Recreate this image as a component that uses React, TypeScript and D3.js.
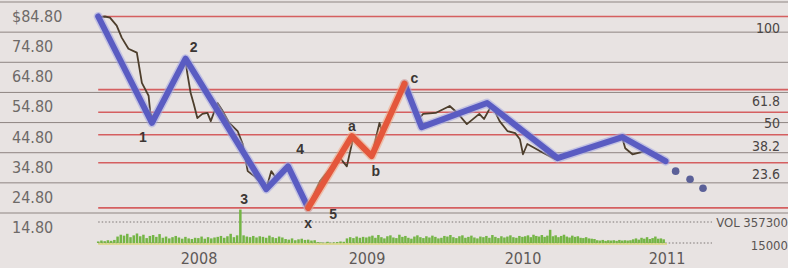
import React, { useEffect, useRef } from 'react';
import * as d3 from 'd3';

// price axis labels, year labels, fibonacci retracement levels
const yTicks = [84.8, 74.8, 64.8, 54.8, 44.8, 34.8, 24.8, 14.8];
const years = [2008, 2009, 2010, 2011];
const fibLevels = [100, 61.8, 50, 38.2, 23.6, 0];
const fibHigh = 84.8;
const fibLow = 21.3;

// closing price (decimal year / $)
const priceDates = [
  2007.40, 2007.44, 2007.47, 2007.51, 2007.54, 2007.58, 2007.63, 2007.64, 2007.66, 2007.70,
  2007.71, 2007.73, 2007.80, 2007.86, 2007.92, 2007.93, 2007.95, 2007.97, 2007.99, 2008.02,
  2008.05, 2008.07, 2008.11, 2008.14, 2008.18, 2008.23, 2008.26, 2008.29, 2008.33, 2008.40,
  2008.43, 2008.46, 2008.53, 2008.59, 2008.65, 2008.72, 2008.79, 2008.84, 2008.88, 2008.92,
  2008.97, 2009.03, 2009.08, 2009.10, 2009.16, 2009.24, 2009.29, 2009.33, 2009.36, 2009.44,
  2009.53, 2009.58, 2009.64, 2009.72, 2009.75, 2009.80, 2009.85, 2009.90, 2009.95, 2009.98,
  2010.00, 2010.03, 2010.12, 2010.22, 2010.33, 2010.47, 2010.60, 2010.69, 2010.71, 2010.76,
  2010.85, 2010.95,
];
const priceValues = [
  84.5, 84.8, 84.4, 81.8, 77.8, 74.1, 72.8, 69.5, 62.8, 58.5,
  52.8, 50.8, 56.8, 63.5, 70.1, 66.1, 59.5, 55.5, 51.1, 52.5,
  52.8, 50.1, 56.1, 53.5, 49.5, 46.8, 42.5, 33.5, 31.8, 27.5,
  33.5, 31.1, 35.1, 28.5, 21.8, 30.1, 35.1, 37.8, 35.1, 45.1,
  40.8, 38.5, 49.5, 46.1, 54.1, 62.8, 56.8, 50.8, 52.5, 52.8,
  55.1, 52.8, 49.1, 52.5, 50.8, 55.5, 50.1, 46.8, 46.1, 44.1,
  39.1, 42.5, 40.1, 37.5, 39.5, 41.8, 43.5, 44.5, 41.1, 39.1,
  40.1, 37.5,
];

// elliott wave overlay
const impulseDates = [2007.40, 2007.72, 2007.92, 2008.40, 2008.53, 2008.65];
const impulseValues = [84.8, 49.5, 70.8, 27.5, 35.1, 21.3];
const impulseLabels = ['', '1', '2', '3', '4', 'x'];
const correctionDates = [2008.65, 2008.91, 2009.03, 2009.24];
const correctionValues = [21.3, 45.1, 38.5, 62.5];
const correctionLabels = ['5', 'a', 'b', 'c'];
const declineDates = [2009.24, 2009.35, 2009.77, 2010.24, 2010.69, 2010.99];
const declineValues = [62.5, 48.1, 56.1, 37.8, 44.8, 36.8];
const forecastDates = [2011.06, 2011.16, 2011.25];
const forecastValues = [33.5, 30.8, 27.8];

// weekly volume, thousands of shares, first week starts at volStart
const volStart = 2007.40;
const volMin = 15000;
const volMax = 357300;
const volumes = [
  40, 55, 45, 60, 50, 65,
  120, 150, 135, 165, 110, 140, 170, 125, 150, 95, 130, 145, 115, 160, 100, 120, 90, 110, 130, 105, 85, 115,
  90, 80, 100, 95, 120, 85, 110, 90, 105, 115, 130, 100, 125,
  165, 110, 140, 560,
  140, 120, 110, 130, 105, 125, 115, 100, 135, 110, 95, 120, 105,
  80, 70, 90, 60, 75, 85, 65, 70, 55, 60,
  30, 25, 20, 35, 20, 25, 30, 40, 35,
  90, 110, 95, 120, 100, 115, 105,
  120, 135, 100, 145, 110, 90, 125, 140, 105, 95,
  150, 115, 130, 100, 85, 120, 140, 110, 95, 125,
  105, 135, 115, 90, 100, 130, 120, 145, 110, 95,
  125, 140, 100, 115, 135, 105, 90, 120, 110, 130,
  100, 145, 115, 95, 125, 105, 120, 140, 110, 100,
  130, 115,
  125, 140, 110, 150, 130, 120, 145, 115, 135, 230,
  125, 140, 110, 130, 150, 120, 105, 135, 115, 125,
  100, 95, 110, 90, 85, 80,
  60, 55, 65, 50, 60, 55, 60, 50, 65, 55, 60, 55, 60,
  75, 90, 70, 100, 85, 110, 80, 95, 120, 85, 90, 75,
];

const condensed = "'DejaVu Sans Condensed', 'Liberation Sans Narrow', 'DejaVu Sans', sans-serif";

const WaveChart = () => {
  const svgRef = useRef<SVGSVGElement>(null);

  useEffect(() => {
    const svg = d3.select(svgRef.current);
    svg.selectAll('*').remove();

    const width = 788;
    const height = 268;

    // year positions on the printed axis are not evenly spaced
    const x = d3.scaleLinear().domain(years).range([199, 367, 523, 667]);
    const y = d3.scaleLinear().domain([14.8, 84.8]).range([227.5, 16.5]);
    const yVol = d3.scaleLinear().domain([volMin / 1000, volMax / 1000]).range([243, 222]);

    svg.attr('width', width).attr('height', height);

    svg.append('rect')
      .attr('width', width)
      .attr('height', height)
      .attr('fill', '#e8e3e2');

    // grey grid sits half way between the price labels
    svg.append('g')
      .selectAll('line')
      .data(yTicks)
      .join('line')
      .attr('x1', 0)
      .attr('x2', width)
      .attr('y1', d => y(d) - 14.5)
      .attr('y2', d => y(d) - 14.5)
      .attr('stroke', '#8e8582')
      .attr('stroke-width', 1);

    svg.append('g')
      .selectAll('text')
      .data(yTicks)
      .join('text')
      .attr('x', 12)
      .attr('y', d => y(d))
      .attr('dominant-baseline', 'central')
      .style('font-family', condensed)
      .style('font-size', '16px')
      .style('fill', '#6e6a68')
      .text((d, i) => (i === 0 ? '$' : '') + d.toFixed(2));

    // fibonacci retracement lines
    const fibY = (r: number) => y(fibLow + (fibHigh - fibLow) * r / 100);
    svg.append('g')
      .selectAll('line')
      .data(fibLevels)
      .join('line')
      .attr('x1', x(volStart))
      .attr('x2', width)
      .attr('y1', d => fibY(d))
      .attr('y2', d => fibY(d))
      .attr('stroke', '#d2494a')
      .attr('stroke-width', 1.6)
      .attr('opacity', 0.85);

    svg.append('g')
      .selectAll('text')
      .data(fibLevels.filter(d => d > 0))
      .join('text')
      .attr('x', 780)
      .attr('y', d => fibY(d) + 11)
      .attr('text-anchor', 'end')
      .attr('dominant-baseline', 'central')
      .style('font-family', condensed)
      .style('font-size', '14px')
      .style('fill', '#4a4544')
      .text(d => String(d));

    // volume panel
    [volMax, volMin].forEach(v => {
      svg.append('line')
        .attr('x1', x(volStart))
        .attr('x2', 712)
        .attr('y1', yVol(v / 1000))
        .attr('y2', yVol(v / 1000))
        .attr('stroke', '#7d7775')
        .attr('stroke-width', 1)
        .attr('stroke-dasharray', '1.5,2');
    });

    svg.append('line')
      .attr('x1', x(volStart))
      .attr('x2', x(2011))
      .attr('y1', yVol(volMin / 1000) + 1)
      .attr('y2', yVol(volMin / 1000) + 1)
      .attr('stroke', '#d8d77a')
      .attr('stroke-width', 1.5);

    svg.append('g')
      .selectAll('rect')
      .data(volumes)
      .join('rect')
      .attr('x', (d, i) => x(volStart + i / 52) - 1.25)
      .attr('width', 2.5)
      .attr('y', d => yVol(d))
      .attr('height', d => Math.max(0, yVol(volMin / 1000) - yVol(d)))
      .attr('fill', '#74b545');

    svg.append('text')
      .attr('x', 788)
      .attr('y', yVol(volMax / 1000))
      .attr('text-anchor', 'end')
      .attr('dominant-baseline', 'central')
      .style('font-family', condensed)
      .style('font-size', '13px')
      .style('fill', '#5a5553')
      .text(`VOL ${volMax}`);

    svg.append('text')
      .attr('x', 788)
      .attr('y', yVol(volMin / 1000) + 2)
      .attr('text-anchor', 'end')
      .attr('dominant-baseline', 'central')
      .style('font-family', condensed)
      .style('font-size', '13px')
      .style('fill', '#5a5553')
      .text(String(volMin));

    // year labels
    svg.append('g')
      .selectAll('text')
      .data(years)
      .join('text')
      .attr('x', d => x(d))
      .attr('y', 258.5)
      .attr('text-anchor', 'middle')
      .attr('dominant-baseline', 'central')
      .style('font-family', condensed)
      .style('font-size', '16px')
      .style('fill', '#5e5957')
      .text(d => String(d));

    // price line
    const priceLine = d3.line<number>()
      .x((d, i) => x(priceDates[i]))
      .y(d => y(d));

    svg.append('path')
      .attr('d', priceLine(priceValues))
      .attr('fill', 'none')
      .attr('stroke', '#4d3e2c')
      .attr('stroke-width', 1.8)
      .attr('stroke-linejoin', 'round');

    // wave overlay
    const drawWave = (dates: number[], values: number[], color: string, halo: string) => {
      const line = d3.line<number>()
        .x((d, i) => x(dates[i]))
        .y(d => y(d));
      svg.append('path')
        .attr('d', line(values))
        .attr('fill', 'none')
        .attr('stroke', halo)
        .attr('stroke-width', 9)
        .attr('stroke-linejoin', 'round')
        .attr('stroke-linecap', 'round')
        .attr('opacity', 0.55);
      svg.append('path')
        .attr('d', line(values))
        .attr('fill', 'none')
        .attr('stroke', color)
        .attr('stroke-width', 6)
        .attr('stroke-linejoin', 'round')
        .attr('stroke-linecap', 'round');
    };

    drawWave(impulseDates, impulseValues, '#5a5cc2', '#a3a5e2');
    drawWave(declineDates, declineValues, '#5a5cc2', '#a3a5e2');
    drawWave(correctionDates, correctionValues, '#e4573c', '#f2a07a');

    svg.append('g')
      .selectAll('circle')
      .data(forecastValues)
      .join('circle')
      .attr('cx', (d, i) => x(forecastDates[i]))
      .attr('cy', d => y(d))
      .attr('r', 3.8)
      .attr('fill', '#5b6098');

    // wave counts
    const offsets: Record<string, [number, number]> = {
      '1': [-9, 14], '2': [8, -12], '3': [-22, 10], '4': [12, -17], 'x': [0, 15],
      '5': [25, 6], 'a': [0, -10], 'b': [4, 15], 'c': [10, -6],
    };
    const labels = [
      ...impulseLabels.map((t, i) => ({ t, d: impulseDates[i], v: impulseValues[i] })),
      ...correctionLabels.map((t, i) => ({ t, d: correctionDates[i], v: correctionValues[i] })),
    ].filter(l => l.t);

    svg.append('g')
      .selectAll('text')
      .data(labels)
      .join('text')
      .attr('x', d => x(d.d) + offsets[d.t][0])
      .attr('y', d => y(d.v) + offsets[d.t][1])
      .attr('text-anchor', 'middle')
      .attr('dominant-baseline', 'central')
      .style('font-family', "'Liberation Sans', Arial, sans-serif")
      .style('font-weight', 'bold')
      .style('font-size', '14px')
      .style('fill', '#3b3634')
      .text(d => d.t);
  }, []);

  return (
    <svg ref={svgRef} style={{ position: 'absolute', left: 0, top: 0, display: 'block' }}></svg>
  );
};

export default function App() {
  return <WaveChart />;
}
